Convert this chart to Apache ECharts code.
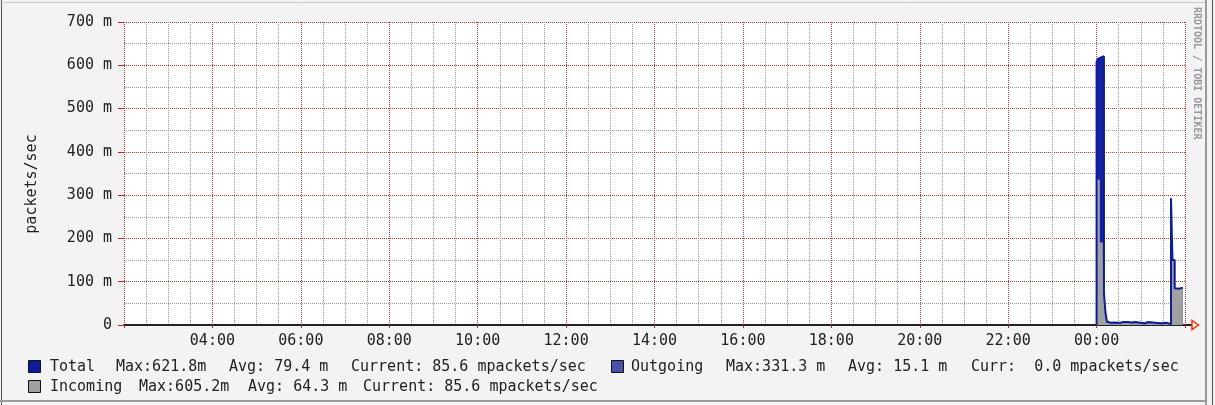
<!DOCTYPE html>
<html>
<head>
<meta charset="utf-8">
<script src="https://cdn.jsdelivr.net/npm/echarts@6/dist/echarts.min.js"></script>
<style>
    html, body { margin: 0; padding: 0; background: #f3f3f3; }
    #chart { width: 1215px; height: 405px; }
</style>
</head>
<body>
<div id="chart"></div>
<script>
// 时间：从 02:00 起算的分钟数（00:00 = 1320）
const times = [1320, 1320, 1322, 1324, 1326, 1328, 1330, 1332, 1334, 1336, 1340, 1344, 1348, 1352, 1356, 1358, 1362, 1364, 1368, 1372, 1374, 1380, 1386, 1390, 1392, 1400, 1408, 1416, 1421, 1423, 1426, 1427, 1432, 1437];
const total = [0, 608, 610, 615, 618, 622, 621, 74, 30, 8, 5, 6, 5, 5, 7, 5, 7, 5, 6, 7, 5, 5, 4, 7, 5, 5, 4, 5, 2, 293, 150, 85, 84, 86];
const incoming = [0, 335, 335, 335, 190, 190, 190, 60, 18, 5, 3, 4, 3, 3, 5, 3, 5, 3, 4, 5, 3, 3, 2, 5, 3, 3, 2, 3, 1, 150, 150, 85, 84, 86];

// 刻度标签
const xTickLabels = ['', '04:00', '06:00', '08:00', '10:00', '12:00', '14:00', '16:00', '18:00', '20:00', '22:00', '00:00', ''];
const yTickLabels = ['0', '100 m', '200 m', '300 m', '400 m', '500 m', '600 m', '700 m'];

// 图例文字
const legendNames = ['Total', 'Outgoing', 'Incoming'];
const legendMax = ['Max:621.8m', 'Max:331.3 m', 'Max:605.2m'];
const legendAvg = ['Avg: 79.4 m', 'Avg: 15.1 m', 'Avg: 64.3 m'];
const legendCur = ['Current: 85.6 mpackets/sec', 'Curr:  0.0 mpackets/sec', 'Current: 85.6 mpackets/sec'];

const colors = { total: '#0c1c9c', totalArea: '#13229e', outgoing: '#4a50a8', incoming: '#a0a0a0' };
const mono = '"DejaVu Sans Mono", monospace';
const font15 = '15px ' + mono;

const chart = echarts.init(document.getElementById('chart'));

function pairs(vals) {
    return times.map((t, i) => [t, vals[i]]);
}

// 图例布局（色块 + 各段文字起点）
const legendLayout = [
    { y: 367, sw: 28, name: 50, max: 116, avg: 229, cur: 351, color: colors.total },
    { y: 367, sw: 611, name: 631, max: 726, avg: 848, cur: 971, color: colors.outgoing },
    { y: 387, sw: 28, name: 50, max: 139, avg: 248, cur: 363, color: colors.incoming }
];

const graphics = [];
legendLayout.forEach((l, i) => {
    graphics.push({
        type: 'rect',
        shape: { x: l.sw + 0.5, y: l.y - 6.5, width: 12, height: 12 },
        style: { fill: l.color, stroke: '#111', lineWidth: 1 }
    });
    [[l.name, legendNames[i]], [l.max, legendMax[i]], [l.avg, legendAvg[i]], [l.cur, legendCur[i]]].forEach(seg => {
        graphics.push({
            type: 'text', x: seg[0], y: l.y,
            style: { text: seg[1], font: font15, fill: '#222', verticalAlign: 'middle' }
        });
    });
});

// y 轴标题
graphics.push({
    type: 'text', x: 32, y: 184, rotation: Math.PI / 2,
    style: { text: 'packets/sec', font: font15, fill: '#222', align: 'center', verticalAlign: 'middle' }
});

// 水印
graphics.push({
    type: 'text', x: 1197, y: 7, rotation: -Math.PI / 2,
    style: { text: 'RRDTOOL / TOBI OETIKER', font: 'bold 10px ' + mono, fill: '#9a9a9a', verticalAlign: 'middle' }
});

// x 轴延长线和红色箭头
graphics.push({
    type: 'line', shape: { x1: 1185, y1: 325, x2: 1192, y2: 325 },
    style: { stroke: '#222', lineWidth: 2 }
});
graphics.push({
    type: 'polygon', shape: { points: [[1192, 320.5], [1198.5, 325], [1192, 329.5]] },
    style: { fill: '#fff', stroke: '#ff2a00', lineWidth: 1.5 }
});

// 外框
graphics.push({ type: 'line', shape: { x1: 1.5, y1: 0, x2: 1.5, y2: 405 }, style: { stroke: '#555', lineWidth: 1 } });
graphics.push({ type: 'line', shape: { x1: 0, y1: 2.5, x2: 1206, y2: 2.5 }, style: { stroke: '#c8c8c8', lineWidth: 1 } });
graphics.push({ type: 'line', shape: { x1: 1206, y1: 0, x2: 1206, y2: 405 }, style: { stroke: '#9a9a9a', lineWidth: 2 } });
graphics.push({ type: 'line', shape: { x1: 1212.5, y1: 0, x2: 1212.5, y2: 405 }, style: { stroke: '#555', lineWidth: 1 } });
graphics.push({ type: 'line', shape: { x1: 0, y1: 401, x2: 1206, y2: 401 }, style: { stroke: '#9a9a9a', lineWidth: 2 } });

const option = {
    backgroundColor: '#f3f3f3',
    animation: false,
    grid: {
        left: 124, right: 30, top: 22, bottom: 80,
        show: true, backgroundColor: '#ffffff', borderWidth: 0
    },
    xAxis: {
        type: 'value',
        min: 0, max: 1440, interval: 120,
        axisLine: { lineStyle: { color: '#222', width: 2 } },
        axisTick: { show: true, length: 3, lineStyle: { color: '#c02828' } },
        minorTick: { show: false, splitNumber: 4 },
        splitLine: { show: true, lineStyle: { color: '#c83030', type: [1, 1] } },
        minorSplitLine: { show: true, lineStyle: { color: '#999999', type: [1, 1] } },
        axisLabel: {
            margin: 9,
            fontFamily: mono, fontSize: 15, color: '#222',
            formatter: v => xTickLabels[Math.round(v / 120)] || ''
        }
    },
    yAxis: {
        type: 'value',
        min: 0, max: 700, interval: 100,
        axisLine: { show: false },
        axisTick: { show: true, length: 6, lineStyle: { color: '#c02828' } },
        minorTick: { show: false, splitNumber: 2 },
        splitLine: { show: true, lineStyle: { color: '#c83030', type: [1, 1] } },
        minorSplitLine: { show: true, lineStyle: { color: '#999999', type: [1, 1] } },
        axisLabel: {
            margin: 12,
            fontFamily: mono, fontSize: 15, color: '#222',
            formatter: v => yTickLabels[Math.round(v / 100)]
        }
    },
    graphic: graphics,
    series: [
        {
            // Total 的填充：其中高出 Incoming 的部分即为 Outgoing
            name: 'TotalFill', type: 'line', step: 'start',
            showSymbol: false, symbol: 'none', z: 2,
            lineStyle: { width: 0 },
            areaStyle: { color: colors.totalArea, opacity: 1 },
            data: pairs(total)
        },
        {
            name: 'Incoming', type: 'line', step: 'start',
            showSymbol: false, symbol: 'none', z: 3,
            lineStyle: { width: 1, color: '#8c8ca8' },
            areaStyle: { color: colors.incoming, opacity: 1 },
            data: pairs(incoming)
        },
        {
            name: 'Total', type: 'line', step: 'start',
            showSymbol: false, symbol: 'none', z: 4,
            lineStyle: { width: 2, color: colors.total },
            data: pairs(total)
        }
    ]
};

chart.setOption(option);
</script>
</body>
</html>
